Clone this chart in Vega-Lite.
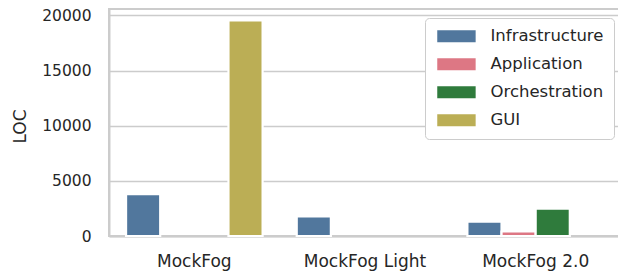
{
  "$schema": "https://vega.github.io/schema/vega-lite/v6.json",
  "autosize": {"type": "none"},
  "padding": {"left": 109, "top": 9, "right": 0, "bottom": 42},
  "width": 512,
  "height": 227,
  "background": "white",
  "data": {
    "values": [
      {"tool": "MockFog", "component": "Infrastructure", "LOC": 3800},
      {"tool": "MockFog", "component": "Application", "LOC": 0},
      {"tool": "MockFog", "component": "Orchestration", "LOC": 0},
      {"tool": "MockFog", "component": "GUI", "LOC": 19550},
      {"tool": "MockFog Light", "component": "Infrastructure", "LOC": 1770},
      {"tool": "MockFog Light", "component": "Application", "LOC": 0},
      {"tool": "MockFog Light", "component": "Orchestration", "LOC": 0},
      {"tool": "MockFog Light", "component": "GUI", "LOC": 0},
      {"tool": "MockFog 2.0", "component": "Infrastructure", "LOC": 1290},
      {"tool": "MockFog 2.0", "component": "Application", "LOC": 410},
      {"tool": "MockFog 2.0", "component": "Orchestration", "LOC": 2470},
      {"tool": "MockFog 2.0", "component": "GUI", "LOC": 0}
    ]
  },
  "transform": [{"filter": "datum.LOC > 0"}],
  "mark": {"type": "bar", "stroke": "white", "strokeWidth": 2.2},
  "encoding": {
    "x": {
      "field": "tool",
      "type": "nominal",
      "sort": ["MockFog", "MockFog Light", "MockFog 2.0"],
      "scale": {"domain": ["MockFog", "MockFog Light", "MockFog 2.0"], "paddingInner": 0.2, "paddingOuter": 0.1},
      "axis": {"title": null, "labelAngle": 0, "labelPadding": 17, "labelFontSize": 17, "grid": false}
    },
    "xOffset": {
      "field": "component",
      "type": "nominal",
      "sort": ["Infrastructure", "Application", "Orchestration", "GUI"],
      "scale": {"domain": ["Infrastructure", "Application", "Orchestration", "GUI"], "paddingInner": 0, "paddingOuter": 0}
    },
    "y": {
      "field": "LOC",
      "type": "quantitative",
      "scale": {"domain": [0, 20580], "nice": false, "zero": true},
      "axis": {
        "title": "LOC",
        "values": [0, 5000, 10000, 15000, 20000],
        "format": "d",
        "labelPadding": 18,
        "titleX": -89,
        "titleY": 117,
        "titleAngle": -90,
        "titleBaseline": "middle",
        "titleAlign": "center"
      }
    },
    "color": {
      "field": "component",
      "type": "nominal",
      "sort": ["Infrastructure", "Application", "Orchestration", "GUI"],
      "scale": {
        "domain": ["Infrastructure", "Application", "Orchestration", "GUI"],
        "range": ["#51779D", "#DD7784", "#2F7B3C", "#BBAE55"]
      },
      "legend": {"title": null}
    }
  },
  "config": {
    "font": "DejaVu Sans",
    "view": {"stroke": "#cccccc", "strokeWidth": 2},
    "axis": {
      "labelFont": "DejaVu Sans",
      "labelFontSize": 15.5,
      "labelColor": "#262626",
      "titleFont": "DejaVu Sans",
      "titleFontSize": 17,
      "titleFontWeight": "normal",
      "titleColor": "#262626",
      "ticks": false,
      "domainColor": "#cccccc",
      "domainWidth": 2,
      "gridColor": "#cccccc",
      "gridWidth": 1.3
    },
    "legend": {
      "orient": "none",
      "legendX": 316,
      "legendY": 9,
      "fillColor": "white",
      "strokeColor": "#cccccc",
      "strokeWidth": 1,
      "cornerRadius": 4,
      "padding": 10,
      "symbolType": "M-1,-1H5.4V1H-1Z",
      "symbolSize": 144,
      "symbolStrokeWidth": 0,
      "symbolOpacity": 1,
      "labelOffset": 39,
      "rowPadding": 11,
      "labelFont": "DejaVu Sans",
      "labelFontSize": 16.5,
      "labelColor": "#262626",
      "labelLimit": 300
    }
  }
}
